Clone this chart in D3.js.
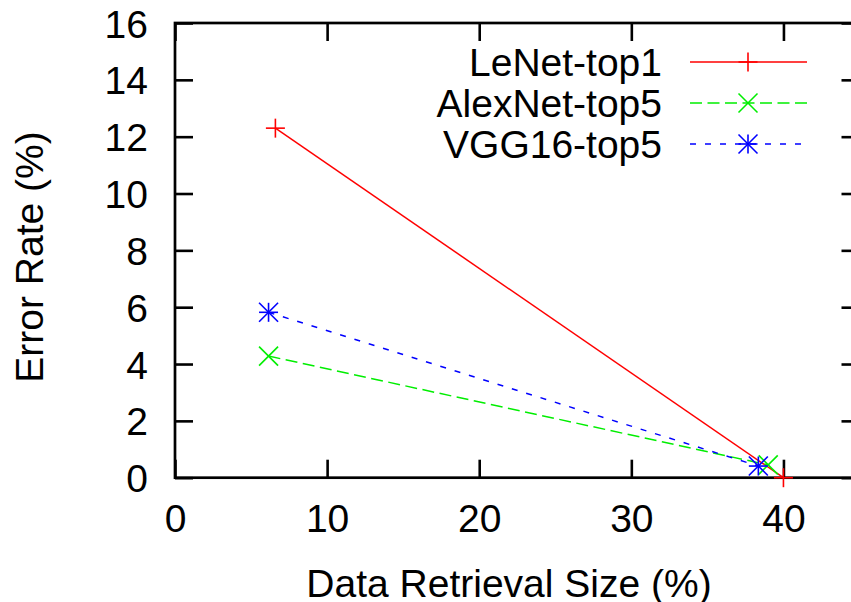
<!DOCTYPE html>
<meta charset="utf-8">
<script src="https://d3js.org/d3.v7.min.js"></script>
<style>
  body { margin: 0; background: #fff; }
  text { font-family: "Liberation Sans", Arial, Helvetica, sans-serif; }
</style>
<body>
<div id="canvas"></div>
<script>

  // data
  var seriesNames = ["LeNet-top1", "AlexNet-top5", "VGG16-top5"];
  var lenetX = [6.6, 40.0];
  var lenetY = [12.3, 0.0];
  var alexX = [6.15, 39.0];
  var alexY = [4.28, 0.45];
  var vggX = [6.15, 38.35];
  var vggY = [5.82, 0.41];
  var xTicks = [0, 10, 20, 30, 40];
  var yTicks = [0, 2, 4, 6, 8, 10, 12, 14, 16];

  var width = 851, height = 602;
  var plotL = 175, plotR = 859.5, plotT = 23, plotB = 477.7;

  var svg = d3.select("#canvas").append("svg")
      .attr("width", width)
      .attr("height", height);

  var x = d3.scaleLinear().domain([0, 45]).range([plotL, plotR]);
  var y = d3.scaleLinear().domain([0, 16]).range([plotB, plotT]);

  // axes, gnuplot style: ticks pointing in, mirrored
  var fs = 39;
  function styleAxis(g) {
    g.select(".domain").remove();
    g.selectAll(".tick line").attr("stroke", "#000").attr("stroke-width", 2.6);
    g.selectAll("text").attr("font-size", fs).attr("fill", "#000");
  }

  svg.append("g")
      .attr("transform", "translate(0," + plotB + ")")
      .call(d3.axisBottom(x).tickValues(xTicks).tickSize(-18).tickPadding(27).tickFormat(d3.format("d")))
      .call(styleAxis);
  svg.append("g")
      .attr("transform", "translate(0," + plotT + ")")
      .call(d3.axisTop(x).tickValues(xTicks).tickSize(-18).tickFormat(""))
      .call(styleAxis);
  svg.append("g")
      .attr("transform", "translate(" + plotL + ",0)")
      .call(d3.axisLeft(y).tickValues(yTicks).tickSize(-18).tickPadding(27).tickFormat(d3.format("d")))
      .call(styleAxis)
      .selectAll("text").attr("dy", "0.36em");
  svg.append("g")
      .attr("transform", "translate(" + plotR + ",0)")
      .call(d3.axisRight(y).tickValues(yTicks).tickSize(-18).tickFormat(""))
      .call(styleAxis);

  // frame
  svg.append("rect")
      .attr("x", plotL).attr("y", plotT)
      .attr("width", plotR - plotL).attr("height", plotB - plotT)
      .attr("fill", "none").attr("stroke", "#000").attr("stroke-width", 2.7);

  // axis titles
  svg.append("text")
      .attr("x", 509).attr("y", 597)
      .attr("text-anchor", "middle").attr("font-size", fs)
      .text("Data Retrieval Size (%)");
  svg.append("text")
      .attr("transform", "translate(43,257) rotate(-90)")
      .attr("text-anchor", "middle").attr("font-size", fs)
      .text("Error Rate (%)");

  // marker shapes
  var ms = 9.5;
  function marker(g, cx, cy, type, color) {
    var segs = [];
    if (type === "plus" || type === "star") {
      segs.push([-ms, 0, ms, 0], [0, -ms, 0, ms]);
    }
    if (type === "cross" || type === "star") {
      segs.push([-ms, -ms, ms, ms], [-ms, ms, ms, -ms]);
    }
    segs.forEach(function(s) {
      g.append("line")
          .attr("x1", cx + s[0]).attr("y1", cy + s[1])
          .attr("x2", cx + s[2]).attr("y2", cy + s[3])
          .attr("stroke", color).attr("stroke-width", 1.6);
    });
  }

  var series = [
    { name: seriesNames[0], xs: lenetX, ys: lenetY, color: "#ff0000", dash: null, type: "plus" },
    { name: seriesNames[1], xs: alexX, ys: alexY, color: "#00ee00", dash: "12,5.5", type: "cross" },
    { name: seriesNames[2], xs: vggX, ys: vggY, color: "#0000ff", dash: "6,9", type: "star" }
  ];

  var line = d3.line().x(function(d) { return x(d[0]); }).y(function(d) { return y(d[1]); });

  series.forEach(function(s, i) {
    var pts = s.xs.map(function(v, j) { return [v, s.ys[j]]; });
    var g = svg.append("g");
    g.append("path")
        .attr("d", line(pts))
        .attr("fill", "none")
        .attr("stroke", s.color)
        .attr("stroke-width", 1.5)
        .attr("stroke-dasharray", s.dash);
    pts.forEach(function(p) { marker(g, x(p[0]), y(p[1]), s.type, s.color); });

    // legend entry
    var ly = 62 + i * 41;
    svg.append("text")
        .attr("x", 662).attr("y", ly)
        .attr("dy", "0.36em")
        .attr("text-anchor", "end").attr("font-size", fs)
        .text(s.name);
    svg.append("line")
        .attr("x1", 690).attr("x2", i === 2 ? 801 : 807)
        .attr("y1", ly).attr("y2", ly)
        .attr("stroke", s.color).attr("stroke-width", 1.5)
        .attr("stroke-dasharray", s.dash);
    marker(svg, 748, ly, s.type, s.color);
  });
</script>
</body>
